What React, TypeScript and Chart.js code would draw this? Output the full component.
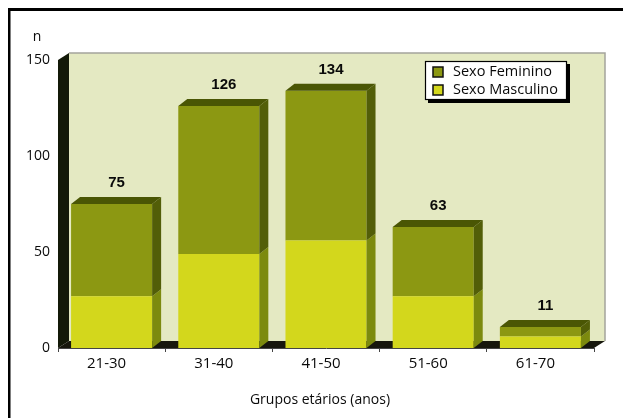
import React, { useEffect, useRef } from "react";
import { Chart, registerables } from "chart.js";

Chart.register(...registerables);

// Age groups and counts per sex (stacked: men at the bottom, women on top)
const ageGroups = ["21-30", "31-40", "41-50", "51-60", "61-70"];
const maleCounts = [27, 49, 56, 27, 6];
const femaleCounts = [48, 77, 78, 36, 5];
const yTickValues = [0, 50, 100, 150];

const maleLabel = "Sexo Masculino";
const femaleLabel = "Sexo Feminino";
const xAxisTitle = "Grupos etários (anos)";
const yAxisTitle = "n";

// Styling
const FONT = "'Open Sans', 'Noto Sans', sans-serif";
const VALUE_FONT = "bold 15px 'Liberation Sans', Arial, sans-serif";
const TEXT_COLOR = "#0a0a0a";
const maleFront = "#d3d71c";
const femaleFront = "#8c9812";
const maleSide = "#7c8a0e";
const femaleSide = "#525e08";
const barTop = "#4a5604";
const wallFill = "#e4e9c2";
const sideWallFill = "#131908";
const floorFill = "#17170d";

// 3D depth offsets
const BAR_DX = 9;
const BAR_DY = -7;
const WALL_DX = 11;
const WALL_DY = -7;

function fillPoly(ctx: CanvasRenderingContext2D, pts: number[][]) {
  ctx.beginPath();
  ctx.moveTo(pts[0][0], pts[0][1]);
  for (let i = 1; i < pts.length; i++) ctx.lineTo(pts[i][0], pts[i][1]);
  ctx.closePath();
  ctx.fill();
}

const box3d = {
  id: "box3d",
  beforeDraw(chart: any) {
    const { ctx, chartArea: a } = chart;
    ctx.save();
    // back wall
    ctx.fillStyle = wallFill;
    ctx.fillRect(a.left + WALL_DX, a.top + WALL_DY, a.right - a.left, a.bottom - a.top);
    ctx.strokeStyle = "#a4a49c";
    ctx.lineWidth = 1.5;
    ctx.beginPath();
    ctx.moveTo(a.left + WALL_DX, a.top + WALL_DY);
    ctx.lineTo(a.right + WALL_DX, a.top + WALL_DY);
    ctx.lineTo(a.right + WALL_DX, a.bottom + WALL_DY);
    ctx.stroke();
    // left side wall
    ctx.fillStyle = sideWallFill;
    fillPoly(ctx, [
      [a.left, a.top],
      [a.left + WALL_DX, a.top + WALL_DY],
      [a.left + WALL_DX, a.bottom + WALL_DY],
      [a.left, a.bottom],
    ]);
    // floor
    ctx.fillStyle = floorFill;
    fillPoly(ctx, [
      [a.left, a.bottom],
      [a.left + WALL_DX, a.bottom + WALL_DY],
      [a.right + WALL_DX, a.bottom + WALL_DY],
      [a.right, a.bottom],
    ]);
    ctx.restore();
  },
  afterDatasetsDraw(chart: any) {
    const { ctx } = chart;
    const sideColors = [maleSide, femaleSide];
    const lastIndex = chart.data.datasets.length - 1;
    ctx.save();
    chart.data.datasets.forEach((_ds: any, d: number) => {
      const meta = chart.getDatasetMeta(d);
      meta.data.forEach((el: any) => {
        const { x, y, base, width } = el.getProps(["x", "y", "base", "width"], true);
        const left = x - width / 2;
        const right = x + width / 2;
        ctx.fillStyle = sideColors[d];
        fillPoly(ctx, [
          [right, y],
          [right + BAR_DX, y + BAR_DY],
          [right + BAR_DX, base + BAR_DY],
          [right, base],
        ]);
        if (d === lastIndex) {
          ctx.fillStyle = barTop;
          fillPoly(ctx, [
            [left, y],
            [left + BAR_DX, y + BAR_DY],
            [right + BAR_DX, y + BAR_DY],
            [right, y],
          ]);
        }
      });
    });
    // totals above each stack
    const topMeta = chart.getDatasetMeta(lastIndex);
    ctx.fillStyle = TEXT_COLOR;
    ctx.font = VALUE_FONT;
    ctx.textAlign = "center";
    ctx.textBaseline = "middle";
    topMeta.data.forEach((el: any, i: number) => {
      const { x, y } = el.getProps(["x", "y"], true);
      const total = maleCounts[i] + femaleCounts[i];
      ctx.fillText(String(total), x + 5, y - 21);
    });
    ctx.restore();
  },
  afterDraw(chart: any) {
    const { ctx, chartArea: a } = chart;
    ctx.save();
    // legend box with drop shadow
    const lx = 425, ly = 61, lw = 142, lh = 39;
    ctx.fillStyle = "#000";
    ctx.fillRect(lx + 3, ly + 3, lw, lh);
    ctx.fillStyle = "#fff";
    ctx.fillRect(lx, ly, lw, lh);
    ctx.strokeStyle = "#000";
    ctx.lineWidth = 1.2;
    ctx.strokeRect(lx + 0.5, ly + 0.5, lw - 1, lh - 1);
    const entries = [
      { text: femaleLabel, color: femaleFront },
      { text: maleLabel, color: maleFront },
    ];
    ctx.font = `14.5px ${FONT}`;
    ctx.textAlign = "left";
    ctx.textBaseline = "middle";
    entries.forEach((e, i) => {
      const cy = ly + 11 + i * 18;
      ctx.fillStyle = e.color;
      ctx.fillRect(lx + 8, cy - 5, 10, 10);
      ctx.strokeStyle = "#111";
      ctx.lineWidth = 1.5;
      ctx.strokeRect(lx + 8, cy - 5, 10, 10);
      ctx.fillStyle = TEXT_COLOR;
      ctx.fillText(e.text, lx + 28, cy);
    });
    // axis titles
    ctx.fillStyle = TEXT_COLOR;
    ctx.textAlign = "center";
    ctx.font = `14px ${FONT}`;
    ctx.fillText(xAxisTitle, (a.left + a.right) / 2 - 6, 400);
    ctx.fillText(yAxisTitle, 37, 37);
    // page frame
    ctx.fillStyle = "#000";
    ctx.fillRect(8, 8, chart.width - 8, 3);
    ctx.fillRect(8, 8, 2.5, chart.height - 8);
    ctx.restore();
  },
};

export default function App() {
  const canvasRef = useRef<HTMLCanvasElement | null>(null);

  useEffect(() => {
    const canvas = canvasRef.current;
    if (!canvas) return;
    const chart = new Chart(canvas, {
      type: "bar",
      data: {
        labels: ageGroups,
        datasets: [
          { label: maleLabel, data: maleCounts, backgroundColor: maleFront, borderWidth: 0 },
          { label: femaleLabel, data: femaleCounts, backgroundColor: femaleFront, borderWidth: 0 },
        ],
      },
      options: {
        responsive: false,
        animation: false,
        layout: { padding: { left: 0, right: 29, top: 60, bottom: 0 } },
        datasets: {
          bar: { categoryPercentage: 1, barPercentage: 0.756 },
        },
        plugins: {
          legend: { display: false },
          tooltip: { enabled: false },
        },
        scales: {
          x: {
            stacked: true,
            afterFit: (scale: any) => {
              scale.height = 70;
            },
            grid: {
              drawOnChartArea: false,
              drawTicks: true,
              tickLength: 4,
              offset: true,
              color: "#444",
            },
            border: { display: true, color: "#444", width: 1 },
            ticks: {
              padding: 3,
              labelOffset: -5,
              color: TEXT_COLOR,
              font: { family: FONT, size: 15 },
            },
          },
          y: {
            stacked: true,
            min: 0,
            max: 150,
            afterFit: (scale: any) => {
              scale.width = 58;
            },
            afterBuildTicks: (scale: any) => {
              scale.ticks = yTickValues.map((v) => ({ value: v }));
            },
            grid: { display: false, drawTicks: false },
            border: { display: false },
            ticks: {
              padding: 8,
              color: TEXT_COLOR,
              font: { family: FONT, size: 14 },
            },
          },
        },
      },
      plugins: [box3d],
    });
    return () => chart.destroy();
  }, []);

  return (
    <div style={{ position: "fixed", left: 0, top: 0, width: 623, height: 418, background: "#fff" }}>
      <canvas ref={canvasRef} width={623} height={418} style={{ display: "block" }} />
    </div>
  );
}
